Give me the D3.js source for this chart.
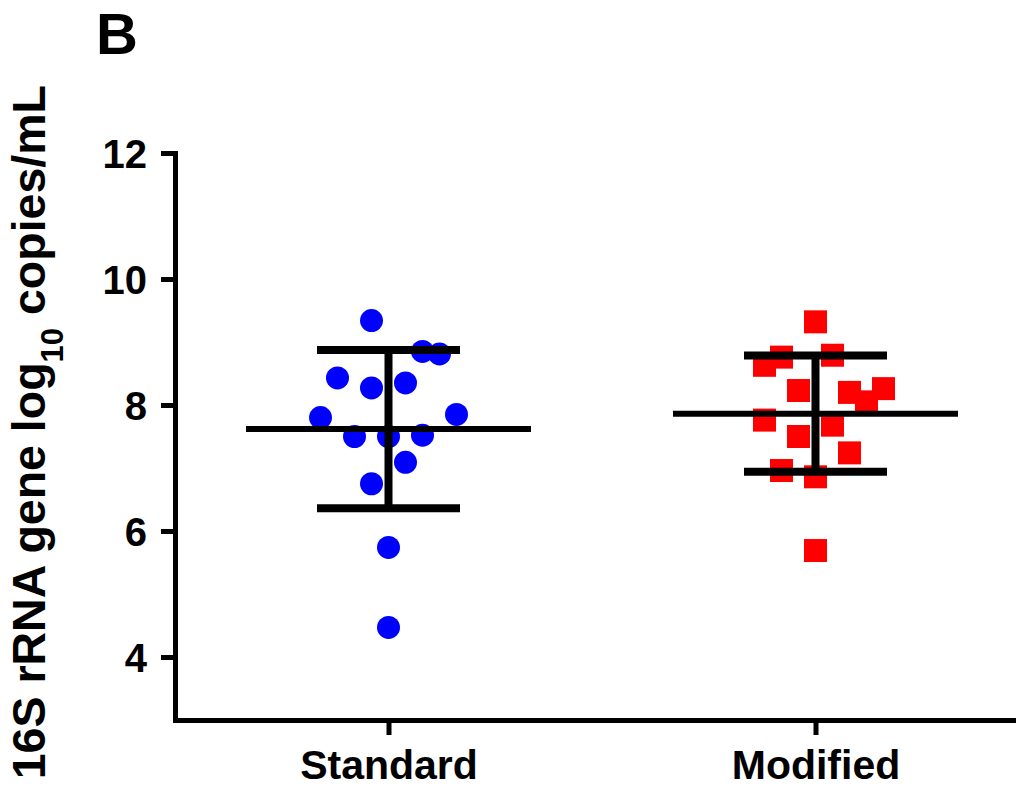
<!DOCTYPE html>
<html>
<head>
<meta charset="utf-8">
<script src="https://cdn.jsdelivr.net/npm/d3@7"></script>
<style>
  body { margin: 0; background: #fff; }
  text { font-family: "Liberation Sans", Arial, Helvetica, sans-serif; font-weight: bold; }
</style>
</head>
<body>
<div id="chart"></div>
<script>
// groups on the x axis
var groups = ["Standard", "Modified"];

// 16S rRNA gene, log10 copies/mL
var standardValues = [9.34, 8.85, 8.81, 8.43, 8.27, 8.35, 7.80, 7.85, 7.50, 7.50, 7.52, 7.09, 6.75, 5.74, 4.47];
var modifiedValues = [9.32, 8.76, 8.63, 8.79, 8.23, 8.20, 8.26, 8.05, 7.76, 7.68, 7.50, 7.24, 6.96, 6.86, 5.69];

// scatter column of each point (Prism style spread), in marker slots
var standardSlot = [-1, 2, 3, -3, -1, 1, -4, 4, -2, 0, 2, 1, -1, 0, 0];
var modifiedSlot = [0, -2, -3, 1, -1, 2, 4, 3, -3, 1, -1, 2, -2, 0, 0];

var yTicks = [4, 6, 8, 10, 12];
var yDomain = [3, 12];

var width = 1016, height = 790;
var margin = {top: 153, left: 175, bottom: 70};

var svg = d3.select("#chart").append("svg")
    .attr("width", width)
    .attr("height", height);

svg.append("rect").attr("width", width).attr("height", height).attr("fill", "#fff");

var y = d3.scaleLinear().domain(yDomain).range([height - margin.bottom, margin.top]);
// axis runs past the right edge of the picture
var x = d3.scalePoint().domain(groups).range([margin.left, 1029]).padding(0.5);

var slotWidth = 17;

var series = [
    {name: "Standard", values: standardValues, slots: standardSlot, color: "#0000ff", shape: "circle"},
    {name: "Modified", values: modifiedValues, slots: modifiedSlot, color: "#ff0000", shape: "square"}
];

// points first, so the mean / SD bars sit on top
series.forEach(function(s){
    var pts = s.values.map(function(v, i){ return {v: v, slot: s.slots[i]}; });
    var g = svg.append("g");
    if (s.shape == "circle") {
        g.selectAll("circle").data(pts).enter().append("circle")
            .attr("cx", function(d){ return x(s.name) + d.slot * slotWidth; })
            .attr("cy", function(d){ return y(d.v); })
            .attr("r", 11.5)
            .attr("fill", s.color);
    } else {
        g.selectAll("rect").data(pts).enter().append("rect")
            .attr("x", function(d){ return x(s.name) + d.slot * slotWidth - 11.5; })
            .attr("y", function(d){ return y(d.v) - 11.5; })
            .attr("width", 23)
            .attr("height", 23)
            .attr("fill", s.color);
    }
});

// mean with SD
series.forEach(function(s){
    var m = d3.mean(s.values);
    var sd = d3.deviation(s.values);
    var cx = x(s.name);
    var g = svg.append("g").attr("stroke", "#000");
    g.append("line")
        .attr("x1", cx).attr("x2", cx)
        .attr("y1", y(m + sd)).attr("y2", y(m - sd))
        .attr("stroke-width", 8);
    [m + sd, m - sd].forEach(function(v){
        g.append("line")
            .attr("x1", cx - 71.5).attr("x2", cx + 71.5)
            .attr("y1", y(v)).attr("y2", y(v))
            .attr("stroke-width", 8);
    });
    g.append("line")
        .attr("x1", cx - 142.5).attr("x2", cx + 142.5)
        .attr("y1", y(m)).attr("y2", y(m))
        .attr("stroke-width", 6);
});

// axes
var yAxis = svg.append("g")
    .attr("transform", "translate(" + margin.left + ",0)")
    .call(d3.axisLeft(y).tickValues(yTicks).tickSize(14).tickSizeOuter(0).tickPadding(14));

var xAxis = svg.append("g")
    .attr("transform", "translate(0," + (height - margin.bottom) + ")")
    .call(d3.axisBottom(x).tickSize(15).tickSizeOuter(0).tickPadding(6));

[yAxis, xAxis].forEach(function(a){
    a.selectAll("path, line").attr("stroke", "#000").attr("stroke-width", 5).attr("stroke-linecap", "square");
    a.selectAll("text").attr("fill", "#000").style("font-family", "'Liberation Sans', Arial, sans-serif").style("font-weight", "bold");
});
yAxis.selectAll("line").attr("stroke-linecap", "butt");
xAxis.selectAll("line").attr("stroke-linecap", "butt");
yAxis.selectAll("text").style("font-size", "40px").attr("dy", "0.36em");
xAxis.selectAll("text").style("font-size", "41px").attr("dy", "0.92em");

// y axis title (reaches the bottom edge, as in the figure)
var title = svg.append("text")
    .attr("transform", "translate(45,85) rotate(-90)")
    .attr("text-anchor", "end")
    .style("font-size", "46.5px");
title.append("tspan").text("16S rRNA gene log");
title.append("tspan").attr("baseline-shift", "sub").style("font-size", "31px").text("10");
title.append("tspan").text(" copies/mL");

// panel letter
svg.append("text")
    .attr("x", 96).attr("y", 54)
    .style("font-size", "58px")
    .text("B");
</script>
</body>
</html>
